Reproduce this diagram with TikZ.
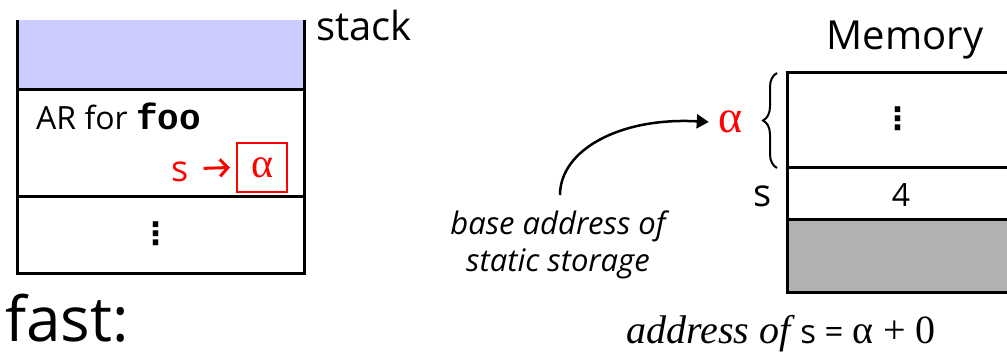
\documentclass[tikz,border=0pt]{standalone}
\usepackage{fontspec}
\setmainfont{Open Sans}
\setmonofont{Liberation Mono}
\newfontfamily\timesfont{Liberation Serif}
\newfontfamily\dotsfont{DejaVu Sans}
\usetikzlibrary{positioning,arrows.meta,decorations.pathreplacing}
\definecolor{stackblue}{RGB}{204,204,255}
\definecolor{memgray}{RGB}{178,178,178}
\newcommand{\fsz}[1]{\fontsize{#1}{#1}\selectfont}
\newcommand{\celldots}{{\dotsfont\bfseries\fsz{31}⋮}}
\tikzset{
  cellline/.style={line width=3pt},
  lbl/.style={inner sep=0pt, anchor=base west},
  clbl/.style={inner sep=0pt, anchor=base},
  redarr/.style={red, line width=3pt, -{Straight Barb[length=8pt,width=17pt]}},
}
\begin{document}
\begin{tikzpicture}[x=1pt,y=-1pt]
\useasboundingbox (0,0) rectangle (1007,355);
\clip (0,0) rectangle (1007,355);
% stack
\fill[stackblue] (17,20) rectangle (304,90);
\draw[cellline] (17,20) -- (17,274) -- (304,274) -- (304,20);
\draw[cellline] (17,90) -- (304,90);
\draw[cellline] (17,197) -- (304,197);
\node[lbl] (stacklbl) at (316,41) {\fsz{40}stack};
\node[lbl] (arlbl) at (36,130) {\fsz{32}AR for \fsz{36}\texttt{\bfseries foo}};
\node[lbl,red] (sptr) at (171,182) {\fsz{36}s};
\node[draw=red, line width=2pt, minimum width=50pt, minimum height=49pt, inner sep=0pt] (abox) at (262,167.5) {};
\node[red] (aval) at (abox.center) {\timesfont\fsz{42}α};
\draw[redarr] ([xshift=15pt,yshift=4pt]sptr.east) -- ([xshift=-6pt]abox.west);
\node[inner sep=0pt] (sdots) at (156,234) {\celldots};
% memory
\fill[memgray] (787,220) rectangle (1010,293);
\draw[cellline] (1010,73) -- (787,73) -- (787,293) -- (1010,293);
\draw[cellline] (787,168) -- (1010,168);
\draw[cellline] (787,220) -- (1010,220);
\node[clbl] (memlbl) at (905,50) {\fsz{40}Memory};
\node[inner sep=0pt] (mdots) at (898,119) {\celldots};
\node[clbl] (four) at (901,207) {\fsz{32}4};
\node[lbl] (slbl) at (753,207) {\fsz{38}s};
\draw[line width=2pt, decorate, decoration={brace, amplitude=14pt}] (777,168) -- (777,73);
\node[red,inner sep=0pt] (alpha) at (731,122) {\timesfont\fsz{46}α};
% base address
\node[align=center, inner sep=0pt] (basenote) at (558,245) {\fsz{31}\itshape base address of\\[6pt]\fsz{31}\itshape static storage};
\coordinate (arrstart) at (560,195);
\draw[line width=2.5pt, -{Triangle[length=12pt,width=14pt]}] (arrstart) .. controls (560,150) and (620,117) .. ([xshift=-10pt]alpha.west);
% bottom
\node[lbl] (fastlbl) at (5,342) {\fsz{62}fast:};
\node[lbl] (addrlbl) at (626,344) {\fsz{40}\timesfont\itshape address of \fsz{33}\normalfont s = \fsz{40}\timesfont α + 0};
\end{tikzpicture}
\end{document}
